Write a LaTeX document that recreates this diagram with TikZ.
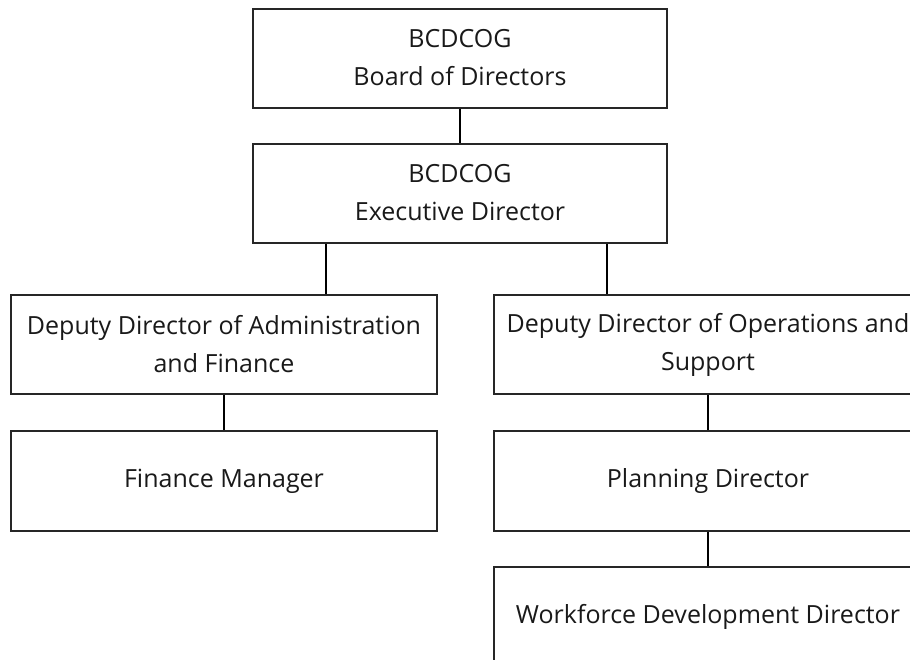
\documentclass[tikz,border=0pt]{standalone}
\usepackage{fontspec}
\setmainfont{Open Sans}
\usetikzlibrary{positioning}

\begin{document}
\begin{tikzpicture}[x=1pt,y=1pt,node distance=34pt,line width=2pt,
  post/.style={draw=black!85,rectangle,minimum width=414pt,minimum height=99pt,
    align=center,inner sep=0pt,text=black!90,font=\fontsize{25}{38}\selectfont}]
  \useasboundingbox (0,0) rectangle (910,-659);
  \clip (0,0) rectangle (910,-659);
  \node[post] (board) at (460,-58) {BCDCOG\\Board of Directors};
  \node[post,below=of board] (exec) {BCDCOG\\Executive Director};
  \node[post,minimum width=426pt] (dadmin) at (224,-344.5) {Deputy Director of Administration\\and Finance};
  \node[post,minimum width=428pt] (dops) at (708,-344.5) {Deputy Director of Operations and\\Support};
  \node[post,minimum width=426pt,minimum height=100pt,below=35pt of dadmin] (finman) {Finance Manager};
  \node[post,minimum width=428pt,minimum height=100pt,below=35pt of dops] (plan) {Planning Director};
  \node[post,minimum width=428pt,minimum height=100pt,below=of plan] (wfd) {Workforce Development Director};
  \draw (board) -- (exec);
  \draw ([xshift=-134pt]exec.south) -- ([xshift=-134pt]exec.south |- dadmin.north);
  \draw ([xshift=147pt]exec.south) -- ([xshift=147pt]exec.south |- dops.north);
  \draw (dadmin) -- (finman);
  \draw (dops) -- (plan);
  \draw (plan) -- (wfd);
\end{tikzpicture}
\end{document}
